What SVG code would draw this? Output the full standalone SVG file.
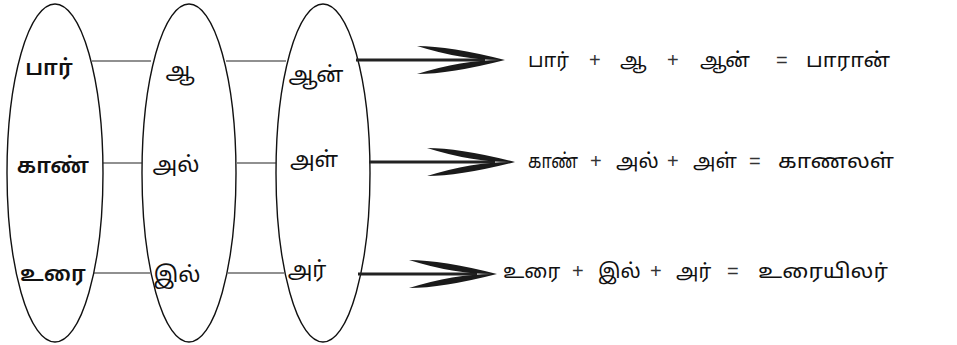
<svg xmlns="http://www.w3.org/2000/svg" width="957" height="345" viewBox="0 0 957 345">
<style>
.ell{fill:none;stroke:#111;stroke-width:1.4}
.ln{stroke:#222;stroke-width:1.1}
.shaft{stroke:#222;stroke-width:3}
.head{fill:#1a1a1a}
.t{font-family:"Noto Sans Tamil","Noto Serif Tamil","Lohit Tamil","Noto Sans","DejaVu Sans",sans-serif;font-size:20px;fill:#111}
.c{font-size:22px}
.b{font-weight:600}
.m{text-anchor:middle}
.op{font-family:"Liberation Sans",sans-serif;font-size:20px;fill:#333}
</style>
<defs>
<path id="ah" d="M-88,-14 Q-55,-14 0,0 Q-40,1 -88,-14 Z M-88,14 Q-55,14 0,0 Q-40,-1 -88,14 Z"/>
</defs>
<g id="col1">
<ellipse class="ell" cx="55" cy="173" rx="48" ry="169"/>
<text class="t c b m" x="49" y="75">பார்</text>
<text class="t c b m" x="53" y="173">காண்</text>
<text class="t c b m" x="53" y="281">உரை</text>
</g>
<g id="col2">
<ellipse class="ell" cx="189" cy="173" rx="47" ry="169"/>
<text class="t c m" x="180" y="78">ஆ</text>
<text class="t c m" x="176" y="172">அல்</text>
<text class="t c m" x="177" y="282">இல்</text>
</g>
<g id="col3">
<ellipse class="ell" cx="323" cy="173" rx="47" ry="169"/>
<text class="t c m" x="316" y="82">ஆன்</text>
<text class="t c m" x="314" y="167">அள்</text>
<text class="t c m" x="307" y="277">அர்</text>
</g>
<g id="connectors">
<line class="ln" x1="92" y1="61" x2="151" y2="61"/>
<line class="ln" x1="226" y1="61" x2="286" y2="61"/>
<line class="ln" x1="103" y1="163" x2="142" y2="163"/>
<line class="ln" x1="237" y1="163" x2="276" y2="163"/>
<line class="ln" x1="94" y1="273" x2="150" y2="273"/>
<line class="ln" x1="228" y1="273" x2="284" y2="273"/>
<line class="shaft" x1="356" y1="60" x2="485" y2="60"/>
<use href="#ah" class="head" transform="translate(505,60)"/>
<line class="shaft" x1="369" y1="162" x2="495" y2="162"/>
<use href="#ah" class="head" transform="translate(515,162)"/>
<line class="shaft" x1="358" y1="274" x2="477" y2="274"/>
<use href="#ah" class="head" transform="translate(497,274)"/>
</g>
<g id="eq1">
<text class="t" y="67"><tspan x="528">பார்</tspan><tspan class="op" x="589">+</tspan><tspan x="620">ஆ</tspan><tspan class="op" x="667">+</tspan><tspan x="700">ஆன்</tspan><tspan class="op" x="776">=</tspan><tspan x="806" textLength="84" lengthAdjust="spacingAndGlyphs">பாரான்</tspan></text>
</g>
<g id="eq2">
<text class="t" y="168"><tspan x="528" textLength="50" lengthAdjust="spacingAndGlyphs">காண்</tspan><tspan class="op" x="590">+</tspan><tspan x="616">அல்</tspan><tspan class="op" x="667">+</tspan><tspan x="693">அள்</tspan><tspan class="op" x="749">=</tspan><tspan x="778" textLength="116" lengthAdjust="spacingAndGlyphs">காணலள்</tspan></text>
</g>
<g id="eq3">
<text class="t" y="278"><tspan x="503">உரை</tspan><tspan class="op" x="572">+</tspan><tspan x="598">இல்</tspan><tspan class="op" x="650">+</tspan><tspan x="676">அர்</tspan><tspan class="op" x="727">=</tspan><tspan x="758" textLength="130" lengthAdjust="spacingAndGlyphs">உரையிலர்</tspan></text>
</g>
</svg>
